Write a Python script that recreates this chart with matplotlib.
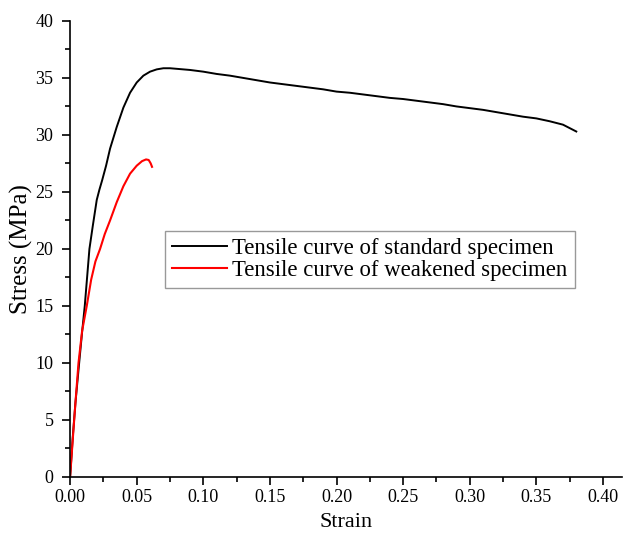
import numpy as np
import matplotlib
matplotlib.use("Agg")
import matplotlib.pyplot as plt
from matplotlib.ticker import MultipleLocator

plt.rcParams["font.family"] = ["Liberation Serif", "DejaVu Serif"]

# standard specimen
std_strain = [0, 0.002, 0.004, 0.0068, 0.009, 0.011, 0.0145, 0.017, 0.020, 0.022, 0.024,
              0.027, 0.030, 0.035, 0.040, 0.045, 0.050, 0.055, 0.060, 0.065, 0.070, 0.075,
              0.080, 0.090, 0.100, 0.110, 0.120, 0.130, 0.140, 0.150, 0.160, 0.170, 0.180,
              0.190, 0.200, 0.210, 0.220, 0.230, 0.240, 0.250, 0.260, 0.270, 0.280, 0.290,
              0.300, 0.310, 0.320, 0.330, 0.340, 0.350, 0.360, 0.370, 0.375, 0.380]
std_stress = [0, 3.5, 6.5, 10, 12.7, 15, 20, 22, 24.3, 25.2, 26.0,
              27.3, 28.8, 30.7, 32.4, 33.7, 34.6, 35.2, 35.55, 35.75, 35.85, 35.85,
              35.8, 35.7, 35.55, 35.35, 35.2, 35.0, 34.8, 34.6, 34.45, 34.3, 34.15,
              34.0, 33.8, 33.7, 33.55, 33.4, 33.25, 33.15, 33.0, 32.85, 32.7, 32.5,
              32.35, 32.2, 32.0, 31.8, 31.6, 31.45, 31.2, 30.9, 30.6, 30.3]

# weakened specimen
weak_strain = [0, 0.002, 0.004, 0.0063, 0.009, 0.0125, 0.0158, 0.019, 0.0225, 0.026,
               0.030, 0.035, 0.040, 0.045, 0.050, 0.054, 0.057, 0.059, 0.0605, 0.0615]
weak_stress = [0, 3.3, 6.5, 10, 12.8, 15, 17.3, 18.9, 20, 21.3,
               22.5, 24.1, 25.5, 26.6, 27.3, 27.7, 27.85, 27.8, 27.5, 27.2]

fig = plt.figure(figsize=(6.26, 5.37), dpi=100)
ax = fig.add_axes([0.112, 0.112, 0.882, 0.849])

ax.plot(std_strain, std_stress, color="black", lw=1.4, label="Tensile curve of standard specimen")
ax.plot(weak_strain, weak_stress, color="red", lw=1.5, label="Tensile curve of weakened specimen")

ax.set_xlim(0, 0.4145)
ax.set_ylim(0, 40)
ax.xaxis.set_major_locator(MultipleLocator(0.05))
ax.xaxis.set_minor_locator(MultipleLocator(0.025))
ax.yaxis.set_major_locator(MultipleLocator(5))
ax.yaxis.set_minor_locator(MultipleLocator(2.5))
ax.xaxis.set_major_formatter(lambda v, p: "%.2f" % v)
ax.tick_params(which="major", direction="out", length=6, width=1.2, labelsize=13)
ax.tick_params(which="minor", direction="out", length=3.5, width=1.2)
ax.tick_params(axis="y", which="major", pad=6)
ax.tick_params(axis="x", which="major", pad=3)
ax.spines["top"].set_visible(False)
ax.spines["right"].set_visible(False)
ax.spines["left"].set_linewidth(1.2)
ax.spines["bottom"].set_linewidth(1.2)

ax.set_xlabel("Strain", fontsize=16, labelpad=5)
ax.set_ylabel("Stress (MPa)", fontsize=18, labelpad=2)

leg = ax.legend(loc="center", bbox_to_anchor=(0.543, 0.477), fontsize=16.4, frameon=True,
                fancybox=False, edgecolor="gray", handlelength=2.4, handletextpad=0.25,
                borderpad=0.3, labelspacing=0.05, borderaxespad=0)
leg.get_frame().set_linewidth(1.0)

fig.savefig("out.png", dpi=100)
